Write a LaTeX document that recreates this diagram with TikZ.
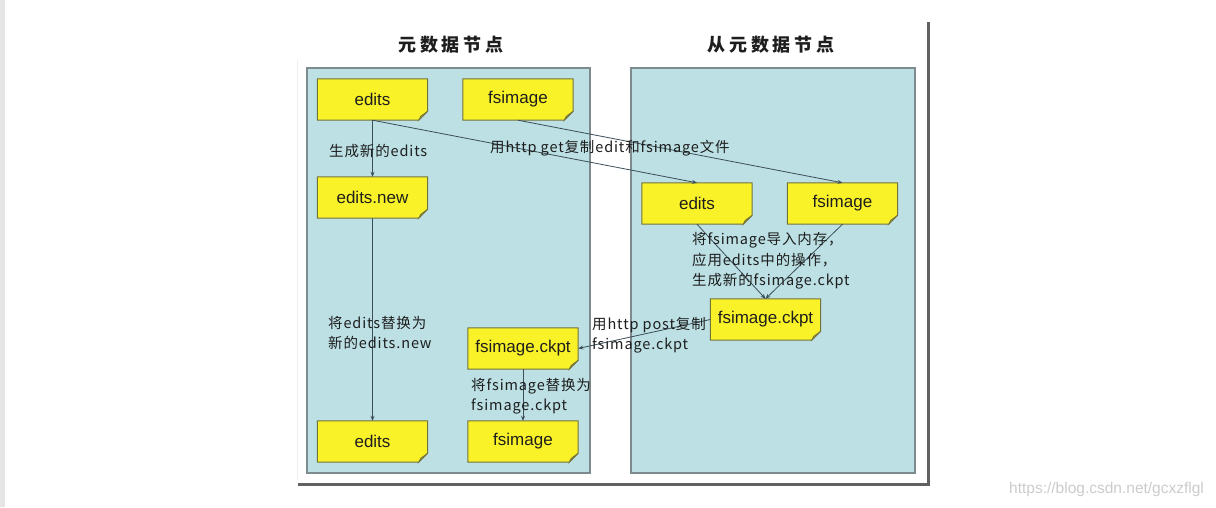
\documentclass[tikz,border=0pt]{standalone}
\usepackage{fontspec}
\setmainfont{Liberation Sans}
\newfontfamily\cjk[LetterSpace=6]{Noto Sans CJK SC}
\newfontfamily\cjktitle[LetterSpace=22]{Noto Sans CJK SC}
\usetikzlibrary{arrows.meta}
\pgfdeclarelayer{back}
\pgfdeclarelayer{mid}
\pgfsetlayers{back,mid,main}
\definecolor{panelfill}{RGB}{188,224,228}
\definecolor{paneledge}{RGB}{125,138,142}
\definecolor{noteyellow}{RGB}{250,242,40}
\definecolor{noteedge}{RGB}{115,115,60}
\definecolor{foldcol}{RGB}{190,180,40}
\definecolor{linecol}{RGB}{60,78,88}
\definecolor{txtcol}{RGB}{30,30,30}
\tikzset{
  notetext/.style={minimum width=110pt, minimum height=41pt, inner sep=0pt,
    font=\fontsize{17}{20}\selectfont, text=txtcol},
  panel/.style={fill=panelfill, draw=paneledge, line width=1.3pt},
  conn/.style={draw=linecol, line width=0.8pt, -{Stealth[length=5pt,width=4pt]}},
  lbl/.style={anchor=west, align=left, inner sep=0pt, text=txtcol,
    font=\cjk\fontsize{14.5}{20.5}\selectfont},
  ttl/.style={inner sep=0pt, text=txtcol, font=\cjktitle\bfseries\fontsize{18}{20}\selectfont},
}
\newcommand\notebox[3]{%
  \node[notetext] (#1) at (#2) {#3};
  \begin{pgfonlayer}{mid}
    \filldraw[fill=noteyellow, draw=noteedge, line width=1pt]
      (#1.north west) -- (#1.north east) -- ([shift={(0,-9)}]#1.south east)
      -- ([shift={(-9,0)}]#1.south east) -- (#1.south west) -- cycle;
    \filldraw[fill=foldcol, draw=noteedge, line width=0.6pt]
      ([shift={(0,-9)}]#1.south east) -- ([shift={(-9,0)}]#1.south east)
      -- ([shift={(-7,-4)}]#1.south east) -- cycle;
  \end{pgfonlayer}}
\begin{document}
\begin{tikzpicture}[x=1pt,y=-1pt]
\useasboundingbox (0,0) rectangle (1216,507);
\begin{pgfonlayer}{back}
  \fill[white] (0,0) rectangle (1216,507);
  \fill[black!10] (0,0) rectangle (5,507);
  \draw[black!6, line width=0.8pt] (297,60) -- (297,480);
  \draw[black!62, line width=3pt] (298,484) -- (928,484) -- (928,22);
  \draw[panel] (307,68) rectangle (590,473);
  \draw[panel] (631,68) rectangle (915,473);
\end{pgfonlayer}
\node[ttl] (t1) at (451,45) {元数据节点};
\node[ttl] (t2) at (771,45) {从元数据节点};

\notebox{le}{372.5,99.5}{edits}
\notebox{lf}{518,99.5}{fsimage}
\notebox{ln}{372.5,197.5}{edits.new}
\notebox{le2}{372.5,441.5}{edits}
\notebox{lc}{523,348.5}{fsimage.ckpt}
\notebox{lf2}{523,441.5}{fsimage}
\notebox{re}{697,203.5}{edits}
\notebox{rf}{842.5,203.5}{fsimage}
\notebox{rc}{765.5,319.5}{fsimage.ckpt}

\draw[conn] (le.south) -- (ln.north);
\draw[conn] (ln.south) -- (le2.north);
\draw[conn] (le.south) -- (re.north);
\draw[conn] (lf.south) -- (rf.north);
\draw[conn] (re.south) -- (rc.north);
\draw[conn] (rf.south) -- (rc.north);
\draw[conn] (rc.west) -- (lc.east);
\draw[conn] (lc.south) -- (lf2.north);

\node[lbl] (l1) at (329,151) {生成新的edits};
\node[lbl] (l2) at (328,333) {将edits替换为\\新的edits.new};
\node[lbl] (l3) at (490,148) {用http get复制edit和fsimage文件};
\node[lbl] (l4) at (692,261) {将fsimage导入内存，\\应用edits中的操作，\\生成新的fsimage.ckpt};
\node[lbl] (l5) at (592,335) {用http post复制\\fsimage.ckpt};
\node[lbl] (l6) at (471,396) {将fsimage替换为\\fsimage.ckpt};

\node[anchor=west, inner sep=0pt, text=black!20, font=\fontsize{15.5}{18}\selectfont] (wm) at (1009,489) {https://blog.csdn.net/gcxzflgl};
\end{tikzpicture}
\end{document}
